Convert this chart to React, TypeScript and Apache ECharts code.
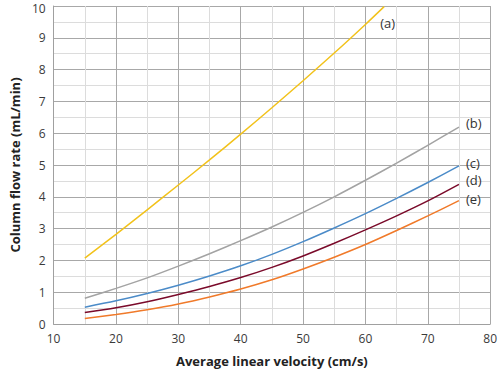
import React, { useEffect, useRef } from "react";
import * as echarts from "echarts";

const xA = [15, 20, 25, 30, 35, 40, 45, 50, 55, 60, 63];
const seriesA = [2.07, 2.82, 3.59, 4.37, 5.16, 5.97, 6.8, 7.65, 8.52, 9.42, 9.98];
const xBE = [15, 20, 25, 30, 35, 40, 45, 50, 55, 60, 65, 70, 75];
const seriesB = [0.81, 1.12, 1.45, 1.82, 2.21, 2.62, 3.05, 3.51, 4.0, 4.52, 5.06, 5.62, 6.19];
const seriesC = [0.53, 0.73, 0.96, 1.22, 1.51, 1.83, 2.19, 2.59, 3.02, 3.47, 3.95, 4.45, 4.97];
const seriesD = [0.36, 0.51, 0.7, 0.93, 1.18, 1.46, 1.78, 2.14, 2.54, 2.96, 3.4, 3.87, 4.39];
const seriesE = [0.17, 0.3, 0.45, 0.63, 0.85, 1.1, 1.39, 1.73, 2.1, 2.5, 2.94, 3.4, 3.88];
const labels = ["(a)", "(b)", "(c)", "(d)", "(e)"];
const colors = ["#f2c21b", "#a3a3a3", "#4b8bc8", "#7a0a2a", "#f07a2a"];

const pairs = (xs: number[], ys: number[]) => ys.map((y, i) => [xs[i], y]);

export default function App() {
  const ref = useRef<HTMLDivElement>(null);
  useEffect(() => {
    if (!ref.current) return;
    const chart = echarts.init(ref.current, null, { renderer: "svg" });
    const font = "'Open Sans', 'Noto Sans', sans-serif";
    const data = [
      pairs(xA, seriesA),
      pairs(xBE, seriesB),
      pairs(xBE, seriesC),
      pairs(xBE, seriesD),
      pairs(xBE, seriesE),
    ];
    const offsets: [number, number][] = [
      [-11, 16],
      [0, -4],
      [0, -3],
      [0, -4],
      [0, -2],
    ];
    const axisCommon = {
      axisTick: { show: false },
      splitLine: { show: true, lineStyle: { color: "#a8a8a8", width: 1 } },
      minorTick: { show: false, splitNumber: 2 },
      minorSplitLine: { show: true, lineStyle: { color: "#dcdcdc", width: 1 } },
      axisLine: { show: true, lineStyle: { color: "#a0a0a0" } },
      nameLocation: "middle",
      nameTextStyle: { fontFamily: font, fontSize: 13, fontWeight: "bold", color: "#222" },
    };
    chart.setOption({
      animation: false,
      grid: { left: 42, right: 7, top: 6, bottom: 45 },
      xAxis: {
        type: "value",
        min: 10,
        max: 80,
        interval: 10,
        name: "Average linear velocity (cm/s)",
        nameGap: 30,
        axisLabel: { fontFamily: font, fontSize: 12, color: "#3a3a3a", margin: 8 },
        ...axisCommon,
      },
      yAxis: {
        type: "value",
        min: 0,
        max: 10,
        interval: 1,
        name: "Column flow rate (mL/min)",
        nameGap: 28,
        axisLabel: {
          fontFamily: font,
          fontSize: 12,
          color: "#3a3a3a",
          margin: 8,
          formatter: (v: number) => (v === 10 ? "{t|10}" : String(v)),
          rich: {
            t: { fontFamily: font, fontSize: 12, color: "#3a3a3a", padding: [5, 0, 0, 0] },
          },
        },
        ...axisCommon,
      },
      series: data.map((d, i) => ({
        type: "line",
        data: d,
        smooth: 0.3,
        showSymbol: false,
        symbol: "none",
        lineStyle: { color: colors[i], width: 1.5 },
        itemStyle: { color: colors[i] },
        endLabel: {
          show: true,
          formatter: labels[i],
          fontFamily: font,
          fontSize: 13,
          color: "#333",
          distance: 7,
          offset: offsets[i],
        },
      })),
    });
    return () => chart.dispose();
  }, []);
  return <div ref={ref} style={{ width: 500, height: 372, position: "absolute", left: 0, top: 0 }} />;
}
